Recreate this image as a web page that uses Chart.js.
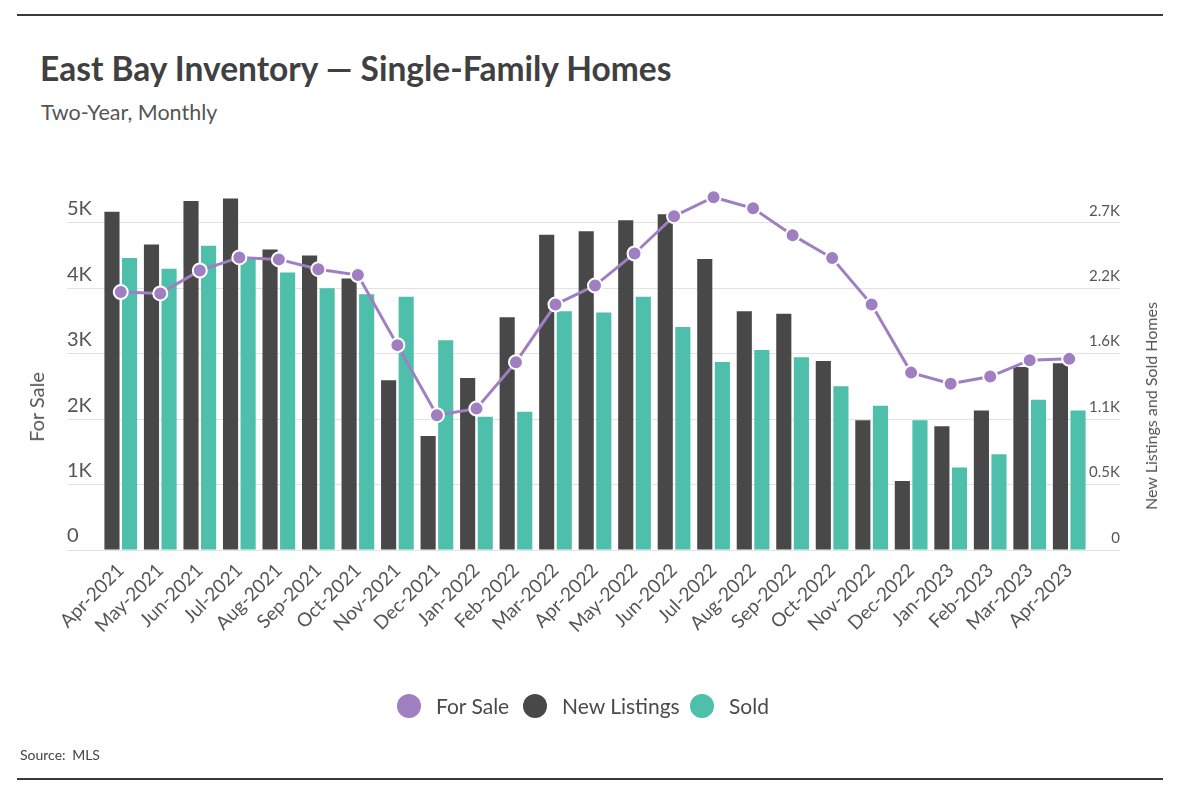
<!DOCTYPE html>
<html>
<head>
<meta charset="utf-8">
<script src="https://cdn.jsdelivr.net/npm/chart.js@4.4.0/dist/chart.umd.min.js"></script>
<style>
  html, body { margin: 0; padding: 0; background: #ffffff; }
  body { width: 1182px; height: 806px; position: relative; overflow: hidden; font-family: Lato, "Noto Sans", sans-serif; }
  #chart { position: absolute; left: 0; top: 0; }
  .abs { position: absolute; white-space: nowrap; line-height: 1; }
  .rule { position: absolute; left: 17px; width: 1146px; height: 2px; background: #3a3a3a; }
  #title { left: 40px; top: 52px; font-size: 33.5px; font-weight: 700; color: #404040; }
  #subtitle { left: 41px; top: 102px; font-size: 21.5px; color: #555555; }
  #ytitleL { left: 36px; top: 407px; font-size: 20px; color: #555555; transform: translate(-50%, -50%) rotate(-90deg); }
  #ytitleR { left: 1151px; top: 406px; font-size: 16px; color: #555555; transform: translate(-50%, -50%) rotate(-90deg); }
  #source { left: 20px; top: 748px; font-size: 14px; color: #444444; word-spacing: 3px; }
  .lg-dot { position: absolute; width: 24px; height: 24px; border-radius: 50%; top: 694px; }
  .lg-txt { position: absolute; top: 694px; height: 24px; line-height: 24px; font-size: 21px; color: #4a4a4a; white-space: nowrap; }
</style>
</head>
<body>
<div class="rule" style="top:14px"></div>
<div class="abs" id="title">East Bay Inventory — Single-Family Homes</div>
<div class="abs" id="subtitle">Two-Year, Monthly</div>
<canvas id="chart" width="1182" height="806"></canvas>
<div class="abs" id="ytitleL">For Sale</div>
<div class="abs" id="ytitleR">New Listings and Sold Homes</div>
<div class="lg-dot" style="left:397px;background:#9f7fc2"></div>
<div class="lg-txt" style="left:436px">For Sale</div>
<div class="lg-dot" style="left:523px;background:#484848"></div>
<div class="lg-txt" style="left:562px">New Listings</div>
<div class="lg-dot" style="left:690px;background:#4dbfaa"></div>
<div class="lg-txt" style="left:729px">Sold</div>
<div class="abs" id="source">Source: MLS</div>
<div class="rule" style="top:778px"></div>
<script>
const months = ['Apr-2021','May-2021','Jun-2021','Jul-2021','Aug-2021','Sep-2021','Oct-2021','Nov-2021','Dec-2021',
  'Jan-2022','Feb-2022','Mar-2022','Apr-2022','May-2022','Jun-2022','Jul-2022','Aug-2022','Sep-2022','Oct-2022','Nov-2022','Dec-2022',
  'Jan-2023','Feb-2023','Mar-2023','Apr-2023'];
const forSale = [3940,3920,4270,4470,4440,4290,4200,3130,2060,2160,2870,3750,4040,4530,5100,5390,5220,4810,4460,3750,2710,2540,2650,2900,2920];
const newListings = [2790,2520,2880,2900,2480,2430,2240,1400,940,1420,1920,2600,2630,2720,2770,2400,1970,1950,1560,1070,570,1020,1150,1510,1540];
const sold = [2410,2320,2510,2400,2290,2160,2110,2090,1730,1100,1140,1970,1960,2090,1840,1550,1650,1590,1350,1190,1070,680,790,1240,1150];

const leftTickValues = [0,1000,2000,3000,4000,5000];
const leftTickLabels = ['0','1K','2K','3K','4K','5K'];
const rightTickValues = [0,540,1080,1620,2160,2700];
const rightTickLabels = ['0','0.5K','1.1K','1.6K','2.2K','2.7K'];

const PURPLE = '#9f7fc2', DARK = '#484848', TEAL = '#4dbfaa', GRID = '#e2e2e2', TICK = '#555555';

new Chart(document.getElementById('chart'), {
  type: 'bar',
  data: {
    labels: months,
    datasets: [
      { type: 'line', label: 'For Sale', data: forSale, yAxisID: 'yL', order: 0, clip: false,
        borderColor: PURPLE, backgroundColor: PURPLE, borderWidth: 3, tension: 0,
        pointRadius: 7, pointHoverRadius: 7, pointBorderWidth: 2, pointBorderColor: '#ffffff', pointBackgroundColor: PURPLE },
      { type: 'bar', label: 'New Listings', data: newListings, yAxisID: 'yR', order: 1,
        backgroundColor: DARK, categoryPercentage: 0.89, barPercentage: 0.86 },
      { type: 'bar', label: 'Sold', data: sold, yAxisID: 'yR', order: 2,
        backgroundColor: TEAL, categoryPercentage: 0.89, barPercentage: 0.86 }
    ]
  },
  options: {
    responsive: false,
    animation: false,
    layout: { padding: { left: 67, right: 62, top: 190, bottom: 156 } },
    plugins: { legend: { display: false }, tooltip: { enabled: false }, title: { display: false } },
    scales: {
      x: {
        offset: true,
        grid: { display: false, drawTicks: false },
        border: { display: false },
        ticks: { autoSkip: false, minRotation: 45, maxRotation: 45, padding: 9, color: TICK,
                 font: { family: 'Lato', size: 19 } },
        afterFit(s) { s.height = 100; s.paddingLeft = 0; s.paddingRight = 0; }
      },
      yL: {
        position: 'left', min: 0, max: 5500,
        afterBuildTicks(s) { s.ticks = leftTickValues.map(v => ({ value: v })); },
        grid: { color: GRID, lineWidth: 1, drawTicks: true, tickLength: 34, tickColor: GRID },
        border: { display: false },
        ticks: { crossAlign: 'far', labelOffset: -14, padding: 0, color: TICK,
                 font: { family: 'Lato', size: 20 },
                 callback: (v) => leftTickLabels[leftTickValues.indexOf(v)] },
        afterFit(s) { s.width = 34; s.paddingTop = 0; s.paddingBottom = 0; }
      },
      yR: {
        position: 'right', min: 0, max: 2970,
        afterBuildTicks(s) { s.ticks = rightTickValues.map(v => ({ value: v })); },
        grid: { drawOnChartArea: false, drawTicks: true, tickLength: 31, tickColor: GRID, color: GRID },
        border: { display: false },
        ticks: { crossAlign: 'far', labelOffset: -12, padding: 0, color: TICK,
                 font: { family: 'Lato', size: 15 },
                 callback: (v) => rightTickLabels[rightTickValues.indexOf(v)] },
        afterFit(s) { s.width = 31; s.paddingTop = 0; s.paddingBottom = 0; }
      }
    }
  }
});
</script>
</body>
</html>
